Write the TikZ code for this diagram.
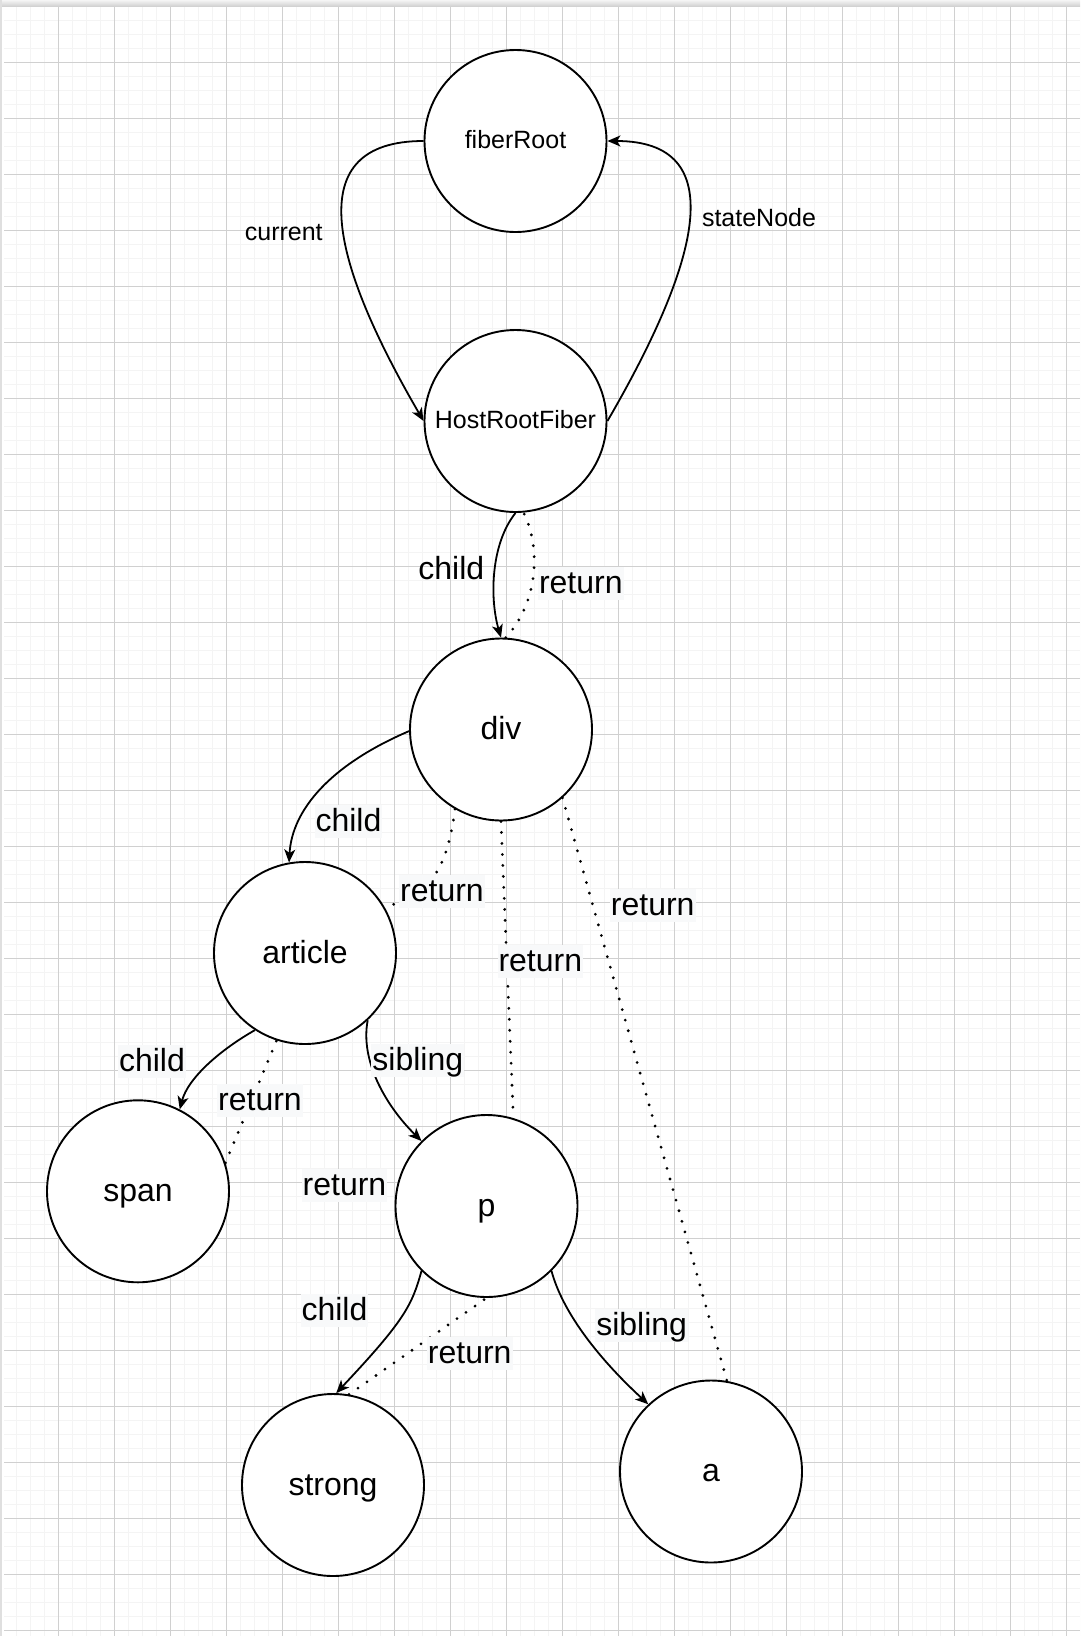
\documentclass[tikz,border=0pt]{standalone}
\usepackage{fontspec}
\setmainfont{Liberation Sans}
\usetikzlibrary{arrows.meta}
\definecolor{gridminor}{RGB}{244,244,244}
\definecolor{gridmajor}{RGB}{208,208,208}
\definecolor{labelbg}{RGB}{248,249,250}
\begin{document}
\begin{tikzpicture}[x=1pt,y=-1pt,
  fiber/.style={circle,draw,line width=1.9pt,fill=white,minimum size=182pt,inner sep=0pt,
    font=\fontsize{32}{38}\selectfont,text height=26.6pt,text depth=6.4pt},
  rootfiber/.style={fiber,font=\fontsize{25}{30}\selectfont,text height=20.75pt,text depth=5pt},
  lbl/.style={inner xsep=1pt,inner ysep=0pt,font=\fontsize{32}{38}\selectfont,text height=26.6pt,text depth=6.4pt},
  lblbg/.style={lbl,fill=labelbg},
  toplbl/.style={inner sep=0pt,font=\fontsize{25}{30}\selectfont,text height=20.75pt,text depth=5pt},
  ptr/.style={line width=1.8pt,-{Stealth[length=13pt,width=11pt,inset=3.5pt]}},
  back/.style={line width=3.1pt,dash pattern=on 0pt off 11pt,line cap=round},
  minorline/.style={gridminor,line width=1.3pt},
  majorline/.style={gridmajor,line width=0.9pt}
]
\useasboundingbox (0,0) rectangle (1080,1636);
\fill[white] (0,0) rectangle (1080,1636);
% grid
\begin{scope}
\clip (4,7.5) rectangle (1080,1636);
\foreach \i in {0,...,77} { \draw[minorline] ({2.3+14*\i},0) -- ({2.3+14*\i},1636); }
\foreach \j in {0,...,116} { \draw[minorline] (0,{6.3+14*\j}) -- (1080,{6.3+14*\j}); }
\foreach \i in {0,...,19} { \draw[majorline] ({2.3+56*\i},0) -- ({2.3+56*\i},1636); }
\foreach \j in {0,...,29} { \draw[majorline] (0,{6.3+56*\j}) -- (1080,{6.3+56*\j}); }
\end{scope}
\shade[top color=gray!8, bottom color=gray!35] (0,0) rectangle (1080,6);
\fill[gray!25] (0,0) rectangle (2,1636);

% nodes
\node[rootfiber] (fr) at (515.5,141) {fiberRoot};
\node[rootfiber] (hrf) at (515.5,421) {HostRootFiber};
\node[fiber] (div) at (501,729.5) {div};
\node[fiber] (art) at (305,953) {article};
\node[fiber] (span) at (138,1191.3) {span};
\node[fiber] (p) at (486.5,1206) {p};
\node[fiber] (strong) at (333,1485) {strong};
\node[fiber] (a) at (711,1471.5) {a};

% connectors
\draw[ptr] (fr.180) .. controls (300,141) and (330,260) .. (hrf.180);
\draw[ptr] (hrf.0) .. controls (701,260) and (731,141) .. (fr.0);
\draw[ptr] (hrf.270) .. controls (490,545) and (490,600) .. (div.90);
\draw[back] (div.87) .. controls (540,600) and (540,545) .. (hrf.275);
\draw[ptr] (div.181) .. controls (330,765) and (292,810) .. (art.100);
\draw[back] (div.240) .. controls (447,870) and (430,895) .. (art.30);
\draw[back] (div.270) -- (p.73);
\draw[back] (div.312) -- (a.80);
\draw[ptr] (art.237) .. controls (220,1050) and (188,1078) .. (span.63);
\draw[back] (span.18) -- (art.252);
\draw[ptr] (art.313) .. controls (360,1060) and (385,1105) .. (p.135);
\draw[ptr] (p.225) .. controls (412,1305) and (405,1320) .. (strong.88);
\draw[back] (strong.80) -- (p.270);
\draw[ptr] (p.315) .. controls (562,1310) and (595,1355) .. (a.133);

% labels
\node[toplbl] (lcur) at (283.8,233) {current};
\node[toplbl] (lsn) at (759,218.8) {stateNode};
\node[lbl] (lc1) at (451.3,569.2) {child};
\node[lblbg] (lr1) at (580.8,583.3) {return};
\node[lblbg] (lc2) at (348.5,821.7) {child};
\node[lblbg] (lr2) at (442,891.7) {return};
\node[lblbg] (lr3) at (540.3,961.7) {return};
\node[lblbg] (lr4) at (652.7,905.8) {return};
\node[lblbg] (lc3) at (152,1061.7) {child};
\node[lblbg] (lr5) at (260,1100.8) {return};
\node[lblbg] (ls1) at (417.8,1060) {sibling};
\node[lblbg] (lr6) at (344.5,1185) {return};
\node[lblbg] (lc4) at (334.5,1310.8) {child};
\node[lblbg] (lr7) at (469.7,1353.3) {return};
\node[lblbg] (ls2) at (641.7,1325.8) {sibling};
\end{tikzpicture}
\end{document}
